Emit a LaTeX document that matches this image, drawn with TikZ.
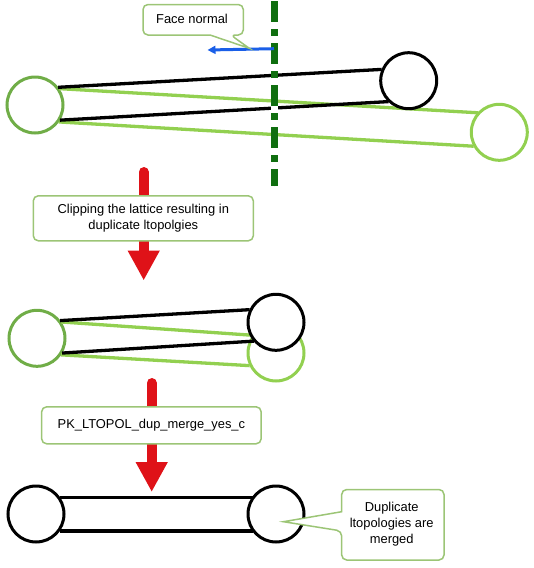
\documentclass[tikz,border=0pt]{standalone}
\usepackage{fontspec}
\setmainfont{Liberation Sans}
\usetikzlibrary{arrows.meta}
\definecolor{darkgreen}{HTML}{70AD47}
\definecolor{lightgreen}{HTML}{92D050}
\definecolor{boxgreen}{HTML}{9CC576}
\definecolor{axisgreen}{HTML}{0F6E0F}
\definecolor{arrowred}{HTML}{DF1218}
\definecolor{normalblue}{HTML}{1A5FE8}
\tikzset{
  ball/.style={circle,draw,fill=white,line width=3pt,minimum size=56pt,inner sep=0,outer sep=0},
  beam/.style={line width=3.3pt,shorten <=1.4pt,shorten >=1.4pt},
  note/.style={align=center,font=\fontsize{12.9}{16}\selectfont,inner sep=0},
  notebox/.style={draw=boxgreen,fill=white,line width=1.5pt,rounded corners=5pt},
  flow/.style={draw=arrowred,line width=10pt,line cap=round,-{Triangle[width=30pt,length=30pt]}}
}
\begin{document}
\begin{tikzpicture}[x=1pt,y=-1pt]
  \useasboundingbox (0,0) rectangle (534,568);

  % lattice before clipping
  \node[ball,draw=darkgreen] (leftA) at (35,105) {};
  \node[ball,draw=lightgreen] (rightA) at (499.3,132.3) {};
  \draw[beam,lightgreen] (leftA.36) -- (rightA.136);
  \draw[beam,lightgreen] (leftA.-37) -- (rightA.210);
  \node[ball,draw=black] (clipA) at (408.7,80.7) {};
  \draw[beam,black] (leftA.39) -- (clipA.156);
  \draw[beam,black] (leftA.-33) -- (clipA.228);

  % clipping plane and normal
  \coordinate (planetop) at (274,1);
  \coordinate (planebot) at (274,186);
  \coordinate (normaltail) at (274,48.7);
  \coordinate (normalhead) at (207.5,50);
  \coordinate (normaltip) at (249.3,48.3);
  \draw[white,line width=7pt] (274,105) -- (274,113);
  \draw[axisgreen,line width=7pt,dash pattern=on 21pt off 7pt on 7pt off 7pt] (planetop) -- (planebot);
  \draw[axisgreen,line width=7pt,line cap=round] (274,4.5) -- (274,10);
  \draw[axisgreen,line width=7pt,line cap=round] (274,175) -- (274,182.5);
  \draw[normalblue,line width=3pt,-{Triangle[width=8pt,length=8pt]}] (normaltail) -- (normalhead);
  \draw[notebox] (143,4.5) -- (243.3,4.5) -- (243.3,35) -- (230.7,35)
    [sharp corners] -- (normaltip) -- (210,35) [rounded corners=5pt] -- (143,35) -- cycle;
  \node[note] (normallabel) at (192,19) {Face normal};

  % first step
  \coordinate (clipstart) at (143.7,172);
  \coordinate (clipend) at (143.7,280.5);
  \draw[flow] (clipstart) -- (clipend);
  \node[notebox,note,minimum width=220pt,minimum height=45pt] (cliplabel) at (143.3,218.3)
    {Clipping the lattice resulting in\\duplicate ltopolgies};

  % after clipping
  \node[ball,draw=darkgreen] (leftB) at (37,338.3) {};
  \node[ball,draw=lightgreen] (rightB) at (276,353) {};
  \draw[beam,lightgreen] (leftB.36) -- (rightB.141);
  \draw[beam,lightgreen] (leftB.-36) -- (rightB.207);
  \node[ball,draw=black] (clipB) at (276,322.3) {};
  \draw[beam,black] (leftB.39.6) -- (clipB.153);
  \draw[beam,black] (leftB.-32.6) -- (clipB.222);

  % second step
  \coordinate (mergestart) at (151.7,383);
  \coordinate (mergeend) at (151.7,492);
  \draw[flow] (mergestart) -- (mergeend);
  \node[notebox,note,minimum width=219.5pt,minimum height=37pt] (mergelabel) at (151.4,425.3)
    {PK\_LTOPOL\_dup\_merge\_yes\_c};

  % merged
  \node[ball,draw=black] (leftC) at (36,514) {};
  \node[ball,draw=black] (rightC) at (276,514) {};
  \draw[beam] (leftC.37.4) -- (leftC.37.4 -| rightC.142.6);
  \draw[beam] (leftC.-37.4) -- (leftC.-37.4 -| rightC.-142.6);

  \coordinate (mergetip) at (283.5,521.7);
  \draw[notebox] (341.7,489.5) -- (444,489.5) -- (444,560) -- (341.7,560) -- (341.7,531)
    [sharp corners] -- (mergetip) -- (341.7,511.7) [rounded corners=5pt] -- cycle;
  \node[note] (duplabel) at (391.7,524) {Duplicate\\ltopologies are\\merged};
\end{tikzpicture}
\end{document}
